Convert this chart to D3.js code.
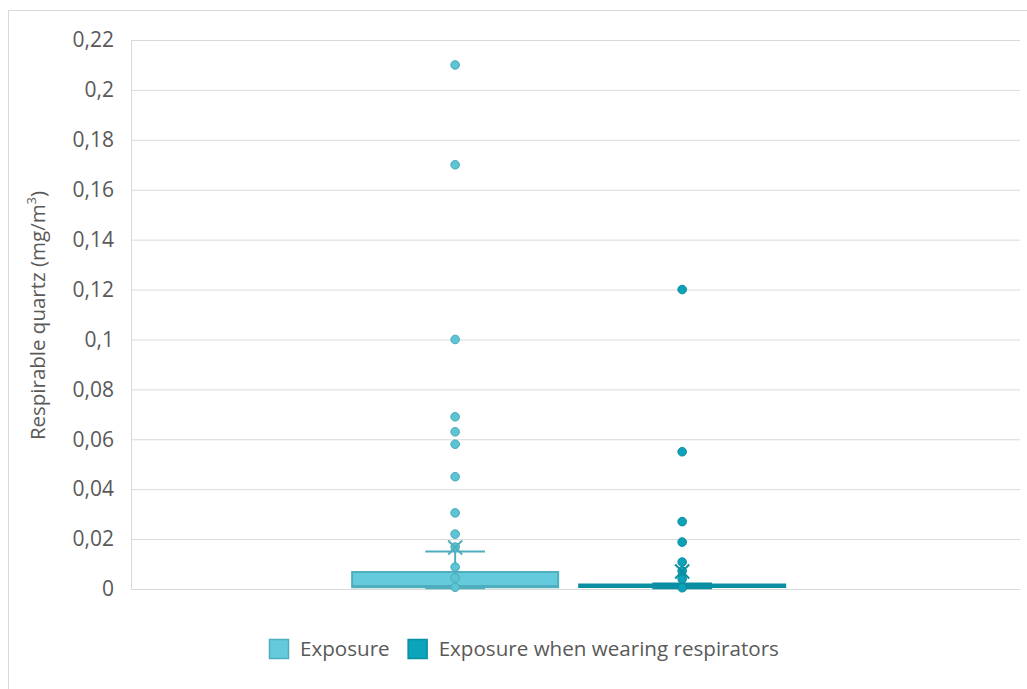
<!DOCTYPE html>
<html>
<head>
<meta charset="utf-8">
<script src="https://cdn.jsdelivr.net/npm/d3@7"></script>
<style>
  body { margin: 0; background: #fff; }
  text { font-family: "Open Sans", "Noto Sans", sans-serif; fill: #595959; }
</style>
</head>
<body>
<svg id="chart" width="1027" height="689"></svg>
<script>
// series names and legend labels
var seriesNames = ['Exposure', 'Exposure when wearing respirators'];
var yTicks = [0, 0.02, 0.04, 0.06, 0.08, 0.1, 0.12, 0.14, 0.16, 0.18, 0.2, 0.22];

// box statistics: [whiskerLow, q1, median, q3, whiskerHigh]
var exposureBox = [0.0003, 0.0007, 0.0012, 0.0068, 0.015];
var respiratorBox = [0.0003, 0.0008, 0.0012, 0.0018, 0.0022];
var exposureMean = 0.0166;
var respiratorMean = 0.007;

// individual points shown
var exposurePoints = [0.21, 0.17, 0.1, 0.069, 0.063, 0.058, 0.045, 0.0305, 0.022, 0.0168, 0.0088, 0.0044, 0.0007];
var respiratorPoints = [0.12, 0.055, 0.027, 0.0188, 0.0108, 0.0072, 0.004, 0.0005];

var styles = [
  {fill: '#63cbdb', stroke: '#4eaebd', point: '#5cc4d3', pointStroke: '#47a9b8'},
  {fill: '#0aa5bb', stroke: '#0a8ea1', point: '#0ca3b9', pointStroke: '#09899c'}
];

var series = [
  {name: seriesNames[0], box: exposureBox, mean: exposureMean, points: exposurePoints, style: styles[0]},
  {name: seriesNames[1], box: respiratorBox, mean: respiratorMean, points: respiratorPoints, style: styles[1]}
];

var svg = d3.select('#chart');
var margin = {left: 131, right: 7, top: 40, bottom: 100};
var W = 1027, H = 689;
var plotRight = W - margin.right;
var plotBottom = H - margin.bottom;

// outer frame
svg.append('rect')
  .attr('x', 8.5).attr('y', 10.5)
  .attr('width', 1030).attr('height', 700)
  .attr('fill', 'none').attr('stroke', '#d9d9d9');

var y = d3.scaleLinear().domain([0, 0.22]).range([plotBottom, margin.top]);

var xCat = d3.scaleBand().domain(['all']).range([margin.left, plotRight])
  .paddingInner(0).paddingOuter(0.5265).align(0.485);
var xSer = d3.scaleBand().domain(seriesNames)
  .range([xCat('all'), xCat('all') + xCat.bandwidth()])
  .paddingInner(0.0925);

// gridlines
var yAxis = d3.axisLeft(y).tickValues(yTicks)
  .tickSize(-(plotRight - margin.left))
  .tickPadding(17)
  .tickFormat(function(d){ return d3.format('~g')(d).replace('.', ','); });
var ga = svg.append('g')
  .attr('transform', 'translate(' + margin.left + ',0)')
  .call(yAxis);
ga.select('.domain').attr('stroke', '#d9d9d9');
ga.selectAll('.tick line').attr('stroke', '#d9d9d9');
ga.selectAll('.tick text').attr('font-size', '21px').attr('fill', '#595959');

// y axis title
svg.append('text')
  .attr('transform', 'translate(45,' + ((margin.top + plotBottom) / 2 + 1) + ') rotate(-90)')
  .attr('text-anchor', 'middle')
  .attr('font-size', '20.5px')
  .html('Respirable quartz (mg/m<tspan baseline-shift="super" font-size="13px">3</tspan>)');

// boxes
series.forEach(function(s){
  var g = svg.append('g');
  var x0 = xSer(s.name), bw = xSer.bandwidth(), cx = x0 + bw / 2;
  var capW = bw * 0.29;
  var b = s.box;
  // whiskers
  g.append('line').attr('x1', cx).attr('x2', cx).attr('y1', y(b[3])).attr('y2', y(b[4]))
    .attr('stroke', s.style.stroke).attr('stroke-width', 2);
  g.append('line').attr('x1', cx).attr('x2', cx).attr('y1', y(b[1])).attr('y2', y(b[0]))
    .attr('stroke', s.style.stroke).attr('stroke-width', 2);
  [b[0], b[4]].forEach(function(v){
    g.append('line').attr('x1', cx - capW / 2).attr('x2', cx + capW / 2)
      .attr('y1', y(v)).attr('y2', y(v))
      .attr('stroke', s.style.stroke).attr('stroke-width', 2);
  });
  // box
  g.append('rect').attr('x', x0).attr('width', bw)
    .attr('y', y(b[3])).attr('height', Math.max(y(b[1]) - y(b[3]), 1))
    .attr('fill', s.style.fill).attr('stroke', s.style.stroke).attr('stroke-width', 2);
  g.append('line').attr('x1', x0).attr('x2', x0 + bw).attr('y1', y(b[2])).attr('y2', y(b[2]))
    .attr('stroke', s.style.stroke).attr('stroke-width', 2);
  // points
  g.selectAll('circle').data(s.points).enter().append('circle')
    .attr('cx', cx).attr('cy', function(d){ return y(d); }).attr('r', 4.3)
    .attr('fill', s.style.point).attr('stroke', s.style.pointStroke).attr('stroke-width', 1);
  // mean marker
  var my = y(s.mean), m = 7;
  g.append('path')
    .attr('d', 'M' + (cx - m) + ',' + (my - m) + 'L' + (cx + m) + ',' + (my + m) +
               'M' + (cx + m) + ',' + (my - m) + 'L' + (cx - m) + ',' + (my + m))
    .attr('stroke', s.style.stroke).attr('stroke-width', 2).attr('fill', 'none');
});

// legend
var legend = svg.append('g').attr('transform', 'translate(269,639)');
var lx = 0;
series.forEach(function(s, i){
  var item = legend.append('g').attr('transform', 'translate(' + lx + ',0)');
  item.append('rect').attr('x', 0.5).attr('y', 0.5).attr('width', 19).attr('height', 19)
    .attr('fill', s.style.fill).attr('stroke', s.style.stroke).attr('stroke-width', 1.5);
  var t = item.append('text').attr('x', 31).attr('y', 17).attr('font-size', '20.6px').text(s.name);
  lx += 31 + t.node().getComputedTextLength() + 18;
});
</script>
</body>
</html>
